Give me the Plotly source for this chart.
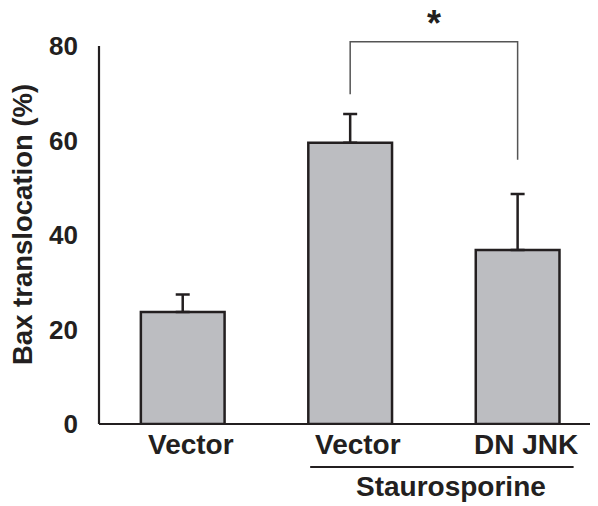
import plotly.graph_objects as go

# ---- data ----
categories = ["Vector", "Vector", "DN JNK"]
x_pos = [0, 1, 2]
values = [23.7, 59.5, 36.8]
errors = [3.7, 6.1, 11.9]
y_ticks = [0, 20, 40, 60, 80]
group_label = "Staurosporine"
group_members = [1, 2]
sig_pair = [1, 2]
sig_bracket_top = 80.9
sig_leg_bottoms = [69.8, 55.9]
sig_text = "*"
y_title = "Bax translocation (%)"

X_RANGE = [-0.5, 2.48]
Y_RANGE = [0, 80]
# page has an 8px body margin, so the figure is sized/offset to compensate
W, H = 590, 498
ML, MR, MT, MB = 91, 0, 38, 82
PW = W - ML - MR
PH = H - MT - MB
INK = "#231f20"
FONT = "Liberation Sans, Arial, sans-serif"


def xp(v):
    return (v - X_RANGE[0]) / (X_RANGE[1] - X_RANGE[0])


def yp(v):
    return (v - Y_RANGE[0]) / (Y_RANGE[1] - Y_RANGE[0])


fig = go.Figure()
fig.add_trace(go.Bar(
    x=x_pos, y=values, width=0.5,
    marker=dict(color="#bcbdc1", line=dict(color=INK, width=2.5)),
    error_y=dict(type="data", array=errors, arrayminus=[0] * len(errors),
                 symmetric=False, color=INK, thickness=2.5, width=7),
))

shapes = []
# axes lines
shapes.append(dict(type="line", xref="paper", yref="paper", x0=0, x1=0, y0=0, y1=1,
                   line=dict(color=INK, width=2.2)))
shapes.append(dict(type="line", xref="paper", yref="paper", x0=0, x1=1, y0=0, y1=0,
                   line=dict(color=INK, width=2.2)))
# significance bracket
a, b = sig_pair
shapes.append(dict(type="path", xref="paper", yref="paper",
                   path=f"M {xp(a)},{yp(sig_leg_bottoms[0])} L {xp(a)},{yp(sig_bracket_top)} "
                        f"L {xp(b)},{yp(sig_bracket_top)} L {xp(b)},{yp(sig_leg_bottoms[1])}",
                   line=dict(color="#555555", width=1.5)))
# group underline
shapes.append(dict(type="line", xref="paper", yref="paper",
                   x0=xp(group_members[0]) - 40 / PW,
                   x1=xp(group_members[1]) + 56 / PW,
                   y0=-43 / PH, y1=-43 / PH,
                   line=dict(color=INK, width=2)))

annotations = []
for xv, lab in zip(x_pos, categories):
    annotations.append(dict(x=xp(xv), y=0, xref="paper", yref="paper", text=lab,
                            showarrow=False, xshift=8, yshift=-20,
                            xanchor="center", yanchor="middle",
                            font=dict(family=FONT, size=28, color=INK, weight="bold")))
annotations.append(dict(x=(xp(group_members[0]) + xp(group_members[1])) / 2, y=0,
                        xref="paper", yref="paper", text=group_label, showarrow=False,
                        xshift=17, yshift=-62, xanchor="center", yanchor="middle",
                        font=dict(family=FONT, size=28, color=INK, weight="bold")))
annotations.append(dict(x=(xp(a) + xp(b)) / 2, y=yp(sig_bracket_top), xref="paper", yref="paper",
                        text=sig_text, showarrow=False, yshift=18,
                        xanchor="center", yanchor="middle",
                        font=dict(family=FONT, size=36, color=INK, weight="bold")))
annotations.append(dict(x=-77 / PW, y=0.5, xref="paper", yref="paper",
                        text=y_title, textangle=-90, showarrow=False, yshift=10,
                        xanchor="center", yanchor="middle",
                        font=dict(family=FONT, size=27.5, color=INK, weight="bold")))

fig.update_layout(
    width=W, height=H, margin=dict(l=ML, r=MR, t=MT, b=MB, pad=0, autoexpand=False),
    paper_bgcolor="white", plot_bgcolor="white", showlegend=False,
    shapes=shapes, annotations=annotations,
    xaxis=dict(range=X_RANGE, showticklabels=False, showgrid=False, zeroline=False,
               showline=False, ticks="", fixedrange=True, automargin=False),
    yaxis=dict(range=Y_RANGE, tickvals=y_ticks, showgrid=False, zeroline=False,
               showline=False, ticks="", ticklabelstandoff=20, automargin=False,
               tickfont=dict(family=FONT, size=26, color=INK, weight="bold")),
)

fig.write_html("out.html")
